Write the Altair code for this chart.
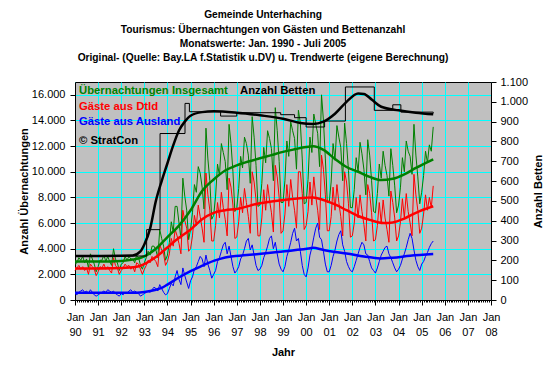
import altair as alt
import pandas as pd

FONT = "Liberation Sans"

title_lines = [
    "Gemeinde Unterhaching",
    "Tourismus: Übernachtungen von Gästen und Bettenanzahl",
    "Monatswerte: Jan. 1990 - Juli 2005",
    "Original- (Quelle: Bay.LA f.Statistik u.DV) u. Trendwerte (eigene Berechnung)",
]

# monthly values Jan 1990 - Jul 2005
gesamt = [
    2800, 2900, 3300, 3100, 3400, 2900, 3200, 2500, 3600, 3200, 2800, 2200,
    2600, 3100, 3100, 3500, 3000, 3400, 3000, 2700, 4000, 3200, 2900, 2300,
    2800, 2900, 3400, 3100, 3400, 3200, 3200, 2900, 3500, 3300, 2700, 2400,
    2900, 3300, 3800, 3500, 4200, 4200, 3900, 3300, 5500, 4800, 4200, 3100,
    3500, 4500, 6100, 5300, 7300, 7300, 6000, 4800, 9500, 8100, 7000, 4700,
    5500, 6800, 9000, 8400, 10400, 9900, 8800, 7100, 13400, 11000, 9300, 6300,
    6600, 8100, 10600, 9700, 12200, 11500, 10800, 8600, 13700, 12200, 10000, 6900,
    7200, 8700, 11200, 10300, 12700, 12200, 11300, 9100, 14300, 12700, 10500, 7300,
    7400, 9100, 11900, 10700, 13200, 12600, 11800, 9300, 15000, 13200, 10800, 7600,
    7600, 9300, 12400, 11200, 13900, 13200, 12600, 10200, 14800, 13800, 11000, 7500,
    7600, 9400, 12700, 11500, 14500, 13700, 13000, 10400, 16000, 14000, 11000, 7600,
    7600, 9200, 12200, 10900, 13600, 12700, 11900, 9300, 13800, 12200, 10100, 7200,
    7200, 8600, 11100, 10000, 12300, 11400, 10200, 8200, 12500, 11300, 9300, 6900,
    6800, 8300, 10600, 9500, 11600, 10500, 9700, 8100, 11800, 10500, 8900, 6800,
    7400, 8800, 11100, 10000, 12400, 11600, 11200, 9800, 13700, 11300, 9600, 7500,
    8400, 9700, 11600, 10700, 12100, 11600, 13500,
]
dtld = [
    2300, 2500, 2700, 2400, 2600, 2300, 2500, 2000, 2800, 2600, 2400, 1900,
    2200, 2600, 2500, 2800, 2400, 2600, 2300, 2100, 3300, 2700, 2500, 2000,
    2300, 2500, 2800, 2600, 2700, 2400, 2600, 2200, 2900, 2800, 2400, 2000,
    2400, 2700, 3100, 2900, 3400, 3200, 3000, 2600, 4300, 3900, 3600, 2700,
    3000, 3600, 4800, 4200, 5500, 5000, 4400, 3600, 7000, 6200, 5600, 3800,
    4000, 5000, 6600, 5800, 7400, 6500, 5600, 4500, 9900, 8200, 7000, 4600,
    4600, 5800, 7600, 6400, 8400, 7200, 6300, 5000, 9500, 8800, 7400, 4800,
    4900, 6100, 8000, 6800, 8700, 7600, 6500, 5200, 10000, 9200, 7800, 5000,
    5000, 6400, 8600, 7000, 9000, 7800, 6800, 5300, 10500, 9600, 8000, 5200,
    5400, 6700, 9000, 7300, 9400, 8000, 7000, 5600, 10000, 10000, 8300, 5500,
    5800, 6900, 9200, 7400, 9600, 8100, 7000, 5500, 11300, 10200, 8200, 5400,
    5400, 6500, 8800, 7000, 9000, 7600, 6500, 5000, 10000, 9200, 7500, 4900,
    5000, 6000, 8000, 6400, 8200, 6900, 5900, 4600, 9000, 8300, 6800, 4600,
    4700, 5800, 7600, 6000, 7800, 6400, 5500, 4500, 8500, 7600, 6400, 4600,
    5000, 6100, 7900, 6400, 8300, 6900, 6000, 5000, 9800, 8200, 7000, 5200,
    5600, 6700, 8200, 7000, 8000, 7200, 8900,
]
ausland = [
    500, 400, 600, 700, 800, 600, 700, 500, 800, 600, 400, 300,
    400, 500, 600, 700, 600, 800, 700, 600, 700, 500, 400, 300,
    500, 400, 600, 500, 700, 800, 600, 700, 600, 500, 300, 400,
    500, 600, 700, 600, 800, 1000, 900, 700, 1200, 900, 600, 400,
    500, 900, 1300, 1100, 1800, 2300, 1600, 1200, 2500, 1900, 1400, 900,
    1500, 1800, 2400, 2600, 3000, 3400, 3200, 2600, 3500, 2800, 2300, 1700,
    2000, 2300, 3000, 3300, 3800, 4300, 4500, 3600, 4200, 3400, 2600, 2100,
    2300, 2600, 3200, 3500, 4000, 4600, 4800, 3900, 4300, 3500, 2700, 2300,
    2400, 2700, 3300, 3700, 4200, 4800, 5000, 4000, 4500, 3600, 2800, 2400,
    2200, 2600, 3400, 3900, 4500, 5200, 5600, 4600, 4800, 3800, 2700, 2000,
    1800, 2500, 3500, 4100, 4900, 5600, 6000, 4900, 4700, 3800, 2800, 2200,
    2200, 2700, 3400, 3900, 4600, 5100, 5400, 4300, 3800, 3000, 2600, 2300,
    2200, 2600, 3100, 3600, 4100, 4500, 4300, 3600, 3500, 3000, 2500, 2300,
    2100, 2500, 3000, 3500, 3800, 4100, 4200, 3600, 3300, 2900, 2500, 2200,
    2400, 2700, 3200, 3600, 4100, 4700, 5200, 4800, 3900, 3100, 2600, 2300,
    2800, 3000, 3400, 3700, 4100, 4400, 4600,
]

# trend values (decimal year, value)
trend_g_t = [1990.0, 1991.0, 1992.0, 1992.5, 1993.0, 1993.5, 1994.0, 1994.5, 1995.0, 1995.5, 1996.0, 1996.5,
             1997.0, 1997.5, 1998.0, 1998.5, 1999.0, 1999.5, 2000.0, 2000.3, 2000.75, 2001.25, 2001.75,
             2002.25, 2002.75, 2003.25, 2003.75, 2004.25, 2004.75, 2005.5]
trend_g_v = [3000, 3000, 3050, 3150, 3400, 4000, 4900, 5800, 7000, 8500, 9400, 10100,
             10500, 10800, 11050, 11300, 11550, 11750, 11930, 11980, 11700, 11000, 10370,
             10000, 9600, 9350, 9450, 9800, 10300, 10970]
trend_r_t = [1990.0, 1992.0, 1992.67, 1993.0, 1993.5, 1994.0, 1994.5, 1995.0, 1995.5, 1996.0, 1996.5,
             1997.0, 1998.0, 1999.0, 2000.0, 2000.3, 2000.75, 2001.25, 2001.75, 2002.25, 2002.75,
             2003.35, 2003.75, 2004.25, 2004.75, 2005.5]
trend_r_v = [2450, 2500, 2590, 2800, 3350, 4100, 4850, 5500, 6300, 6800, 7000,
             7100, 7550, 7800, 7980, 8000, 7800, 7450, 7000, 6550, 6250,
             6010, 6050, 6350, 6800, 7310]
trend_b_t = [1990.0, 1992.67, 1993.0, 1993.5, 1993.75, 1994.0, 1994.55, 1995.0, 1995.4, 1996.0, 1996.5,
             1997.43, 1998.87, 2000.1, 2000.3, 2000.75, 2001.25, 2001.75, 2002.5, 2003.2, 2003.75,
             2004.5, 2005.5]
trend_b_v = [570, 570, 620, 800, 950, 1200, 1810, 2250, 2590, 3050, 3320,
             3500, 3760, 4020, 4070, 3900, 3750, 3630, 3400, 3240, 3300,
             3450, 3580]

# beds (right axis)
beds_t = [1990.0, 1993.1, 1993.68, 1994.76, 1994.95, 1996.3, 1997.0, 1998.9, 1999.5, 2000.0,
          2000.8, 2001.7, 2002.95, 2003.75, 2004.1, 2005.5]
beds_v = [222, 355, 840, 992, 950, 928, 945, 935, 920, 873,
          903, 1075, 957, 985, 948, 942]
beds_trend_t = [1990.0, 1992.5, 1992.83, 1993.0, 1993.25, 1993.5, 1993.75, 1994.0, 1994.25, 1994.5,
                1994.75, 1995.0, 1995.5, 1996.0, 1997.0, 1998.0, 1999.0, 1999.75, 2000.3, 2000.75,
                2001.25, 2001.75, 2002.25, 2002.5, 2002.85, 2003.25, 2004.0, 2004.75, 2005.5]
beds_trend_v = [222, 225, 245, 280, 360, 500, 600, 690, 780, 855,
                900, 930, 948, 952, 945, 932, 915, 893, 888, 900,
                940, 1000, 1042, 1040, 1010, 975, 957, 945, 937]

W, H = 416, 218
n = len(gesamt)
t_month = [1990 + i / 12 for i in range(n)]
raw = pd.DataFrame({"t": t_month, "gesamt": gesamt, "dtld": dtld, "ausland": ausland})

is_jan = "abs(datum.value - round(datum.value)) < 0.001"
x_axis = alt.Axis(
    values=[1990 + i / 12 for i in range(12 * 18 + 1)],
    labelExpr=f"({is_jan}) ? ['Jan', substring(toString(round(datum.value)), 2, 4)] : ''",
    labelOverlap=False, labelFont=FONT, labelFontSize=11, labelColor="black",
    labelLineHeight=15, labelPadding=6, labelFlush=False,
    tickSize={"condition": {"test": is_jan, "value": 5}, "value": 2},
    tickColor="black", domainColor="black",
    grid=True, gridColor="#00FFFF", gridWidth=1,
    gridOpacity={"condition": {"test": is_jan, "value": 1}, "value": 0},
    title="Jahr", titleFont=FONT, titleFontSize=11, titleFontWeight="bold", titleColor="black",
    titleX=W / 2, titleY=52, titleBaseline="middle", titleAlign="center",
)
X = alt.X("t:Q", scale=alt.Scale(domain=[1990, 2008], nice=False, zero=False), axis=x_axis)

de_fmt = "replace(format(datum.value, ','), ',', '.')"
yl_axis = alt.Axis(
    values=list(range(0, 16001, 2000)), labelExpr=de_fmt,
    labelFont=FONT, labelFontSize=11, labelColor="black", labelPadding=5,
    tickSize=5, tickColor="black", domainColor="black",
    grid=True, gridColor="#00FFFF", gridWidth=1,
    title="Anzahl Übernachtungen", titleFont=FONT, titleFontSize=11, titleFontWeight="bold",
    titleColor="black", titleAngle=270, titleX=-51, titleY=H / 2,
    titleAlign="center", titleBaseline="middle",
)
yl_scale = alt.Scale(domain=[0, 17000], nice=False, zero=True)

yr_axis = alt.Axis(
    orient="right", values=list(range(0, 1101, 100)), labelExpr=de_fmt,
    labelFont=FONT, labelFontSize=11, labelColor="black", labelPadding=4,
    tickSize=5, tickColor="black", domainColor="black", grid=False,
    title="Anzahl Betten", titleFont=FONT, titleFontSize=11, titleFontWeight="bold",
    titleColor="black", titleAngle=270, titleX=47, titleY=H / 2,
    titleAlign="center", titleBaseline="middle",
)
yr_scale = alt.Scale(domain=[0, 1100], nice=False, zero=True)


def yl(field):
    return alt.Y(f"{field}:Q", scale=yl_scale, axis=yl_axis)


def yr(field):
    return alt.Y(f"{field}:Q", scale=yr_scale, axis=yr_axis)


GREEN, RED, BLUE = "#008000", "#FF0000", "#0000FF"

raw_g = alt.Chart(raw).mark_line(color=GREEN, strokeWidth=1).encode(x=X, y=yl("gesamt"))
raw_r = alt.Chart(raw).mark_line(color=RED, strokeWidth=1).encode(x=X, y=yl("dtld"))
raw_b = alt.Chart(raw).mark_line(color=BLUE, strokeWidth=1).encode(x=X, y=yl("ausland"))


def trend(ts, vs, color):
    return alt.Chart(pd.DataFrame({"t": ts, "v": vs})).mark_line(
        color=color, strokeWidth=2.5, interpolate="monotone").encode(x=X, y=yl("v"))


left = alt.layer(raw_g, raw_r, raw_b,
                 trend(trend_g_t, trend_g_v, GREEN),
                 trend(trend_r_t, trend_r_v, RED),
                 trend(trend_b_t, trend_b_v, BLUE))

beds_step = alt.Chart(pd.DataFrame({"t": beds_t, "b": beds_v})).mark_line(
    color="black", strokeWidth=1, interpolate="step-after").encode(x=X, y=yr("b"))
beds_tr = alt.Chart(pd.DataFrame({"t": beds_trend_t, "b": beds_trend_v})).mark_line(
    color="black", strokeWidth=2.5, interpolate="monotone").encode(x=X, y=yr("b"))
right = alt.layer(beds_step, beds_tr)

dummy = pd.DataFrame({"d": [0]})
texts = []
for line, ty in zip(title_lines, [-66.7, -52.4, -38.4, -24.0]):
    texts.append(alt.Chart(dummy).mark_text(
        text=line, font=FONT, fontSize=10.2, fontWeight="bold", color="black",
        align="center", baseline="middle").encode(x=alt.value(188), y=alt.value(ty)))

legend_items = [
    ("Übernachtungen Insgesamt", GREEN, 4, 9),
    ("Anzahl Betten", "black", 165, 9),
    ("Gäste aus Dtld", RED, 4, 24.5),
    ("Gäste aus Ausland", BLUE, 4, 40),
    ("© StratCon", "black", 4, 58.5),
]
for txt, col, tx, ty in legend_items:
    texts.append(alt.Chart(dummy).mark_text(
        text=txt, font=FONT, fontSize=11.3, fontWeight="bold", color=col,
        align="left", baseline="middle").encode(x=alt.value(tx), y=alt.value(ty)))

chart = alt.layer(left, right, *texts).resolve_scale(y="independent").properties(
    width=W, height=H,
    autosize=alt.AutoSizeParams(type="none"),
    padding={"left": 67, "top": 74, "right": 61, "bottom": 66},
    background="white",
).configure_view(fill="#C0C0C0", stroke="black", strokeWidth=1)

chart.save("out.html", embed_options={"renderer": "svg", "actions": False})
